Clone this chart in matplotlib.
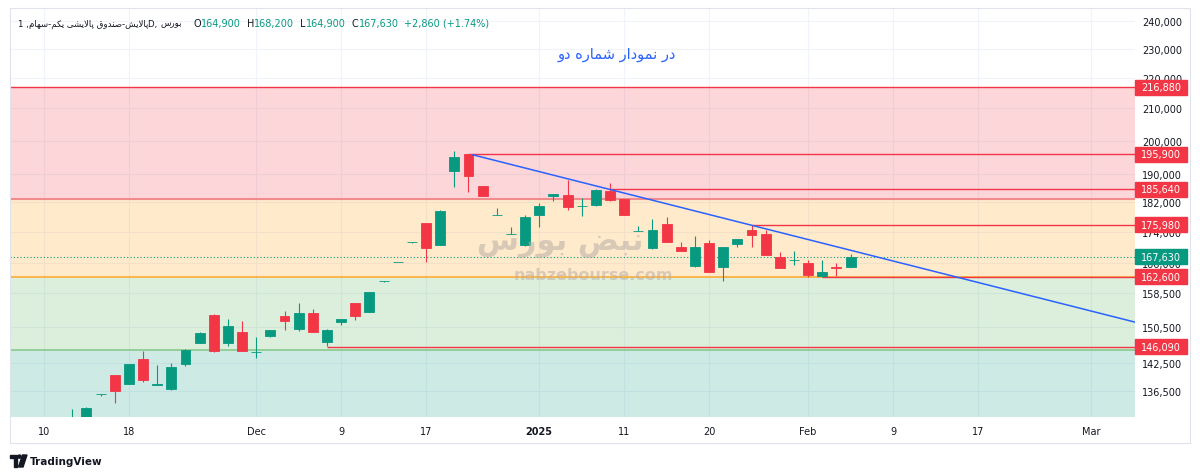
import matplotlib
matplotlib.use("Agg")
import numpy as np
import matplotlib.pyplot as plt
from matplotlib.patches import Rectangle, Polygon, Ellipse
from matplotlib.ticker import FixedLocator, NullLocator, FuncFormatter

W, H = 1200, 477

# ---- data (daily candles, bar numbers counted from the "10" Nov tick) ----
first_bar = 2
opens = [128900, 129900, 135900, 140000, 138100, 143400, 137950, 137000, 142350, 147000,
         153450, 147000, 149400, 144850, 148450, 153150, 150200, 153750, 147150, 151800,
         156200, 154000, 161400, 166200, 171250, 176350, 170600, 190950, 195900, 186750,
         178650, 173450, 170700, 178700, 183750, 184050, 180900, 181300, 185100, 182950,
         174150, 169850, 176150, 170150, 165150, 171150, 164950, 170850, 174450, 173550,
         167600, 166750, 166100, 162800, 164950, 164900]
highs = [132900, 133300, 136050, 140000, 142350, 145100, 142100, 142550, 145550, 149350,
         153500, 152450, 151950, 148250, 149950, 154300, 156150, 154800, 150150, 152450,
         156200, 158850, 161550, 166350, 171400, 176450, 179800, 196750, 195900, 186750,
         180400, 175450, 178700, 181800, 184300, 188350, 183150, 185750, 187500, 183100,
         175550, 177500, 178150, 171500, 173050, 171900, 170200, 172200, 175750, 174450,
         168900, 169000, 166750, 166750, 165950, 168200]
lows = [128000, 129300, 135500, 134100, 138050, 138550, 137950, 136900, 141850, 146950,
        144900, 146250, 145100, 143600, 148400, 150000, 149750, 149400, 146250, 151100,
        152300, 153950, 161350, 166150, 171200, 166200, 170600, 186200, 184850, 183900,
        178650, 173450, 170450, 175300, 182500, 180050, 178400, 181100, 182350, 178700,
        174150, 169550, 171500, 169150, 164950, 163650, 161600, 170000, 170150, 168100,
        164850, 165500, 162400, 162600, 162800, 164900]
closes = [130900, 133100, 136000, 136700, 142300, 138900, 138050, 141700, 145500, 149300,
          145200, 150900, 145200, 144950, 149900, 151900, 153900, 149450, 149900, 152450,
          153200, 158850, 161500, 166300, 171350, 169900, 179750, 195150, 189600, 183900,
          178700, 173550, 178150, 181050, 184300, 180650, 181000, 185500, 182700, 178700,
          174250, 174450, 171500, 169150, 170150, 163650, 170150, 172200, 173150, 168100,
          164850, 166800, 163000, 163650, 164770, 167630]

tick_bars = [0, 6, 15, 21, 27, 35, 41, 47, 54, 60, 66, 74]
tick_labels = ["10", "18", "Dec", "9", "17", "2025", "11", "20", "Feb", "9", "17", "Mar"]
price_ticks = [136500, 142500, 150500, 158500, 166000, 174000, 182000,
               190000, 200000, 210000, 220000, 230000, 240000]

level_prices = [216880, 195900, 185640, 175980, 162600, 146090]
level_from = [-2.4, 30, 40, 50, 55, 20]
last_close = 167630

zone_edges = [216880, 183000, 162600, 145500, 100000]
zone_colors = [(242/255, 54/255, 69/255, 0.2), (255/255, 152/255, 0, 0.2),
               (76/255, 175/255, 80/255, 0.2), (8/255, 153/255, 129/255, 0.2)]

trend_x = [30.3, 77.1]
trend_y = [195700, 151700]

GREEN = "#089981"
RED = "#f23645"
TXT = "#131722"

# ---- tiny persian shaper (no arabic_reshaper here) ----
AR_FORMS = {  # isolated, final, initial, medial
    "ا": ("\uFE8D", "\uFE8E", None, None),
    "ب": ("\uFE8F", "\uFE90", "\uFE91", "\uFE92"),
    "پ": ("\uFB56", "\uFB57", "\uFB58", "\uFB59"),
    "د": ("\uFEA9", "\uFEAA", None, None),
    "ر": ("\uFEAD", "\uFEAE", None, None),
    "س": ("\uFEB1", "\uFEB2", "\uFEB3", "\uFEB4"),
    "ش": ("\uFEB5", "\uFEB6", "\uFEB7", "\uFEB8"),
    "ص": ("\uFEB9", "\uFEBA", "\uFEBB", "\uFEBC"),
    "ض": ("\uFEBD", "\uFEBE", "\uFEBF", "\uFEC0"),
    "ق": ("\uFED5", "\uFED6", "\uFED7", "\uFED8"),
    "ک": ("\uFB8E", "\uFB8F", "\uFB90", "\uFB91"),
    "ل": ("\uFEDD", "\uFEDE", "\uFEDF", "\uFEE0"),
    "م": ("\uFEE1", "\uFEE2", "\uFEE3", "\uFEE4"),
    "ن": ("\uFEE5", "\uFEE6", "\uFEE7", "\uFEE8"),
    "و": ("\uFEED", "\uFEEE", None, None),
    "ه": ("\uFEE9", "\uFEEA", "\uFEEB", "\uFEEC"),
    "ی": ("\uFBFC", "\uFBFD", "\uFBFE", "\uFBFF"),
}


def shape_fa(s):
    out = []
    i = 0
    while i < len(s):
        ch = s[i]
        if ch not in AR_FORMS:
            out.append(ch)
            i += 1
            continue
        prev = s[i - 1] if i > 0 else ""
        joins_prev = prev in AR_FORMS and AR_FORMS[prev][2] is not None
        if ch == "ل" and i + 1 < len(s) and s[i + 1] == "ا":
            out.append("\uFEFC" if joins_prev else "\uFEFB")
            i += 2
            continue
        nxt = s[i + 1] if i + 1 < len(s) else ""
        joins_next = nxt in AR_FORMS and AR_FORMS[ch][2] is not None
        iso, fin, ini, med = AR_FORMS[ch]
        if joins_prev and joins_next:
            out.append(med)
        elif joins_prev:
            out.append(fin)
        elif joins_next:
            out.append(ini)
        else:
            out.append(iso)
        i += 1
    return "".join(reversed(out))


def fx(px):
    return px / W


def fy(py):
    return 1 - py / H


plt.rcParams["font.family"] = ["DejaVu Sans"]
fig = plt.figure(figsize=(W / 100, H / 100), dpi=100)
ax = fig.add_axes([fx(10), fy(418), 1125 / W, (418 - 9) / H])
ax.set_yscale("log")
ax.set_xlim(-2.4, 77.1)
ax.set_ylim(131300, 244700)

# zones
for hi, lo, colr in zip(zone_edges[:-1], zone_edges[1:], zone_colors):
    ax.axhspan(lo, hi, facecolor=colr, lw=0, zorder=1)
ax.axhline(183000, color="#f28b8b", lw=1.5, zorder=2)
ax.axhline(162600, color="#ffa726", lw=1.1, zorder=2)
ax.axhline(145500, color="#81c784", lw=1.1, zorder=2)

# levels
for p, x0 in zip(level_prices, level_from):
    ax.hlines(p, x0, 77.1, colors=RED, lw=1.0, zorder=3)
ax.axhline(last_close, color=GREEN, lw=0.8, ls=(0, (1, 2)), zorder=3)

# candles
x = np.arange(len(opens)) + first_bar
o, h, l, c = map(np.array, (opens, highs, lows, closes))
col = np.where(c >= o, GREEN, RED)
ax.vlines(x, l, h, colors=col, lw=0.8, zorder=4)
ax.bar(x, np.abs(c - o), bottom=np.minimum(o, c), width=0.7, color=col,
       edgecolor=col, linewidth=0.6, zorder=5)

# trendline
ax.plot(trend_x, trend_y, color="#2962ff", lw=1.1, zorder=6)

# axes styling
for sp in ax.spines.values():
    sp.set_visible(False)
ax.set_axisbelow(True)
ax.set_xticks(tick_bars)
ax.set_xticklabels(tick_labels)
for t in ax.get_xticklabels():
    if t.get_text() == "2025":
        t.set_fontweight("bold")
ax.yaxis.tick_right()
ax.yaxis.set_major_locator(FixedLocator(price_ticks))
ax.yaxis.set_minor_locator(NullLocator())
ax.yaxis.set_major_formatter(FuncFormatter(lambda v, _: f"{v:,.0f}"))
ax.tick_params(axis="x", length=0, pad=6.5, labelsize=7, colors=TXT)
ax.tick_params(axis="y", length=0, pad=5, labelsize=7, colors=TXT)
ax.grid(True, color="#f0f3fa", lw=0.8)

# watermark
fig.text(fx(560), fy(243), shape_fa("نبض بورس"), fontsize=22, color="#b9aea4",
         alpha=0.55, ha="center", va="center", fontweight="bold", zorder=3)
fig.text(fx(593), fy(276), "nabzebourse.com", fontsize=11.5, color="#b9aea4",
         alpha=0.55, ha="center", va="center", fontweight="bold", zorder=3)

# price labels on the scale
for p, colr in list(zip(level_prices, [RED] * len(level_prices))) + [(last_close, GREEN)]:
    yd = ax.transData.transform((0, p))[1]
    fig.add_artist(Rectangle((fx(1135), (yd - 7.5) / H), 52 / W, 15 / H,
                             transform=fig.transFigure, color=colr, zorder=5))
    fig.text(fx(1161), yd / H, f"{p:,}", ha="center", va="center", color="white",
             fontsize=7, zorder=6)

# header: symbol part squeezed into 18..188 px like the reference
r = fig.canvas.get_renderer()
head_parts = ["1 ,", shape_fa("پالایش-صندوق پالایشی یکم-سهام"), "D, ", shape_fa("بورس")]
fs = 7
while True:
    xp = 18
    texts = []
    for s in head_parts:
        t = fig.text(fx(xp), fy(24), s, fontsize=fs, color=TXT, va="center", ha="left")
        texts.append(t)
        xp += t.get_window_extent(r).width
    if xp <= 188 or fs < 5:
        break
    for t in texts:
        t.remove()
    fs -= 0.25

for x0, key, val in [(193, "O", "164,900"), (247, "H", "168,200"), (300, "L", "164,900"),
                     (352, "C", "167,630"), (404, "", "+2,860 (+1.74%)")]:
    xp = x0
    if key:
        t = fig.text(fx(xp), fy(24), key, fontsize=7, color=TXT, va="center", ha="left")
        xp += t.get_window_extent(r).width
    fig.text(fx(xp), fy(24), val, fontsize=7, color=GREEN, va="center", ha="left")

fig.text(fx(617), fy(55), shape_fa("در نمودار شماره دو"), fontsize=10.5, color="#2962ff",
         ha="center", va="center")

# frame + tradingview mark
fig.add_artist(Rectangle((fx(9.5), fy(444)), (1190 - 9.5) / W, (444 - 8.5) / H,
                         fill=False, ec="#e0e3eb", lw=0.8, transform=fig.transFigure))
fig.add_artist(Polygon([(fx(10), fy(456)), (fx(17), fy(456)), (fx(17), fy(468)),
                        (fx(14), fy(468)), (fx(14), fy(459)), (fx(10), fy(459))],
                       closed=True, color=TXT, transform=fig.transFigure))
fig.add_artist(Ellipse((fx(19.5), fy(457.6)), 3.2 / W, 3.2 / H, color=TXT,
                       transform=fig.transFigure))
fig.add_artist(Polygon([(fx(22.5), fy(456)), (fx(27), fy(456)), (fx(23), fy(468)),
                        (fx(18.5), fy(468))], closed=True, color=TXT,
                       transform=fig.transFigure))
fig.text(fx(30), fy(462), "TradingView", fontsize=7.5, fontweight="bold", color=TXT,
         va="center", ha="left")

fig.savefig("out.png", dpi=100, facecolor="white")
